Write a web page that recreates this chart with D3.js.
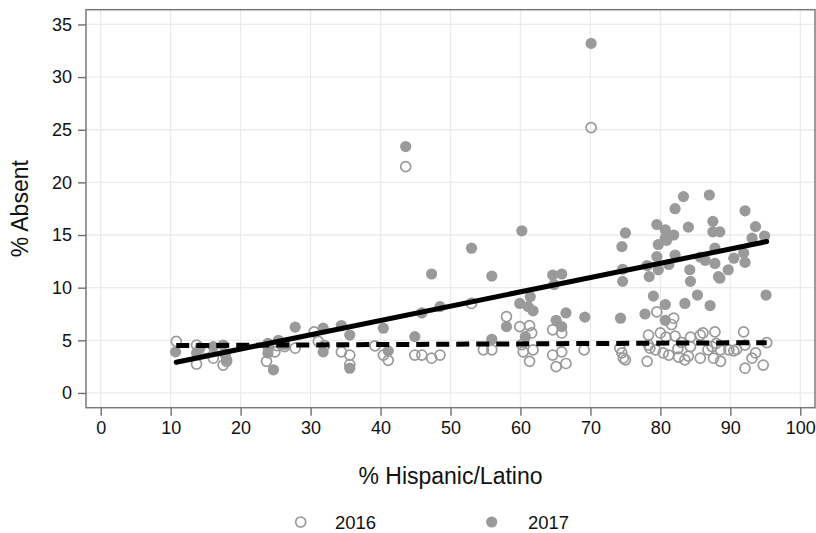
<!DOCTYPE html>
<html>
<head>
<meta charset="utf-8" />
<title>% Absent by % Hispanic/Latino</title>
<script src="https://cdn.jsdelivr.net/npm/d3@7/dist/d3.min.js"></script>
<style>
  body { margin: 0; background: #fff; }
  svg text { font-family: "Liberation Sans", Arial, Helvetica, sans-serif; fill: #111; }
</style>
</head>
<body>
<svg id="chart" width="816" height="533"></svg>
<script>
// 2016 (open circles): % Hispanic/Latino and % Absent
var hisp2016 = [10.8, 13.7, 13.7, 15.0, 16.1, 17.5, 18.0,
  23.7, 24.0, 24.9, 25.2, 26.3, 27.8,
  30.5, 31.1, 32.0, 34.4, 35.6, 35.6,
  39.2, 40.4, 41.1, 43.6, 44.9, 45.9, 47.3, 48.5,
  53.0, 54.7, 55.9, 58.0, 59.9, 60.2, 60.4, 61.3, 61.3, 61.6, 61.8,
  64.6, 64.6, 65.1, 65.9, 65.9, 66.5, 69.1, 70.1,
  74.2, 74.5, 74.7, 75.0, 78.1, 78.3, 78.3, 78.5, 79.3, 79.5, 80.0, 80.4, 80.8, 81.2,
  81.6, 81.9, 82.1, 82.5, 82.6, 83.0, 83.5, 84.0, 84.3, 84.3, 85.7, 85.7, 86.1, 86.8,
  87.4, 87.6, 87.8, 88.0, 88.6, 88.6, 89.8,
  90.5, 90.9, 91.9, 92.1, 92.1, 93.1, 93.6, 94.7, 95.2];
var absent2016 = [4.9, 4.55, 2.75, 4.2, 3.3, 2.65, 3.0,
  3.0, 4.3, 3.9, 4.5, 4.4, 4.25,
  5.8, 4.9, 4.5, 3.9, 3.6, 2.7,
  4.47, 3.6, 3.1, 21.5, 3.6, 3.6, 3.3, 3.6,
  8.5, 4.1, 4.1, 7.25, 6.3, 4.6, 3.9, 6.4, 3.0, 5.7, 4.1,
  6.0, 3.6, 2.5, 5.7, 3.9, 2.8, 4.1, 25.2,
  4.25, 3.8, 3.3, 3.15, 3.0, 5.5, 4.55, 4.25, 4.1, 7.7, 5.7, 3.8, 5.3, 3.6,
  6.5, 7.1, 5.4, 4.2, 3.4, 4.8, 3.15, 3.5, 5.3, 4.4, 5.5, 3.3, 5.7, 4.1,
  4.4, 3.3, 5.8, 4.7, 3.0, 4.1, 4.1,
  4.0, 4.15, 5.8, 4.55, 2.35, 3.3, 3.8, 2.65, 4.78];

// 2017 (filled circles)
var hisp2017 = [10.7, 13.7, 14.2, 16.1, 17.5, 17.8, 18.0,
  23.9, 23.9, 24.7, 25.4, 26.3, 27.8,
  31.8, 31.8, 34.4, 35.6, 35.6,
  40.4, 41.1, 43.6, 44.9, 45.9, 47.3, 48.5,
  53.0, 55.9, 55.9, 58.0, 59.9, 60.2, 60.7, 61.1, 61.4, 61.8,
  64.6, 64.8, 65.1, 65.9, 65.9, 66.5, 69.2, 70.1,
  74.3, 74.5, 74.6, 74.6, 75.0, 77.8, 78.1, 78.4, 79.0, 79.5, 79.5, 79.7, 79.7,
  80.7, 80.7, 80.7, 80.7, 80.9,
  81.2, 81.9, 82.1, 82.1, 83.3, 83.5, 84.0, 84.2, 84.3, 85.3, 85.7, 86.4,
  87.0, 87.1, 87.5, 87.5, 87.8, 87.8, 88.3, 88.5, 88.5, 89.7,
  90.5, 91.9, 92.1, 92.1, 93.1, 93.6, 94.9, 95.1];
var absent2017 = [3.9, 3.8, 4.3, 4.4, 4.55, 3.6, 3.15,
  4.7, 3.8, 2.2, 5.0, 4.6, 6.25,
  6.15, 3.9, 6.4, 5.5, 2.35,
  6.15, 4.0, 23.4, 5.35, 7.6, 11.3, 8.2,
  13.75, 11.1, 5.1, 6.3, 8.5, 15.4, 5.35, 8.2, 9.15, 7.8,
  11.2, 10.3, 6.9, 11.3, 6.3, 7.6, 7.2, 33.2,
  7.1, 13.9, 11.75, 10.6, 15.2, 7.5, 12.1, 11.05, 9.2, 16.0, 12.95, 14.1, 11.7,
  15.5, 14.7, 8.4, 6.9, 14.5,
  12.2, 15.0, 17.5, 13.1, 18.65, 8.5, 15.75, 11.7, 10.6, 9.3, 12.9, 12.6,
  18.8, 8.3, 16.3, 15.3, 13.75, 12.3, 11.05, 15.3, 10.9, 11.7,
  12.8, 13.3, 12.4, 17.3, 14.7, 15.8, 14.9, 9.3];

// fitted lines, end points
var fitX = [10.8, 95.2];
var fit2016 = [4.5, 4.78];
var fit2017 = [2.92, 14.38];

var xTicks = [0, 10, 20, 30, 40, 50, 60, 70, 80, 90, 100];
var yTicks = [0, 5, 10, 15, 20, 25, 30, 35];
var seriesNames = ["2016", "2017"];

var svg = d3.select("#chart");
var plotL = 86, plotR = 815, plotT = 9.7, plotB = 407.7;
var grey = "#9a9a9a";

var x = d3.scaleLinear().domain([-2.1, 102.1]).range([plotL, plotR]);
var y = d3.scaleLinear().domain([-1.4, 36.4]).range([plotB, plotT]);

// grid
svg.append("g").selectAll("line").data(yTicks).enter().append("line")
  .attr("x1", plotL).attr("x2", plotR)
  .attr("y1", function (d) { return y(d); }).attr("y2", function (d) { return y(d); })
  .attr("stroke", "#ebebeb").attr("stroke-width", 1.3);
svg.append("g").selectAll("line").data(xTicks).enter().append("line")
  .attr("y1", plotT).attr("y2", plotB)
  .attr("x1", function (d) { return x(d); }).attr("x2", function (d) { return x(d); })
  .attr("stroke", "#ebebeb").attr("stroke-width", 1.3);

// axes
var xAxis = svg.append("g").attr("transform", "translate(0," + plotB + ")")
  .call(d3.axisBottom(x).tickValues(xTicks).tickSize(8).tickPadding(6).tickFormat(d3.format("d")));
var yAxis = svg.append("g").attr("transform", "translate(" + plotL + ",0)")
  .call(d3.axisLeft(y).tickValues(yTicks).tickSize(8).tickPadding(6).tickFormat(d3.format("d")));
[xAxis, yAxis].forEach(function (a) {
  a.select(".domain").remove();
  a.selectAll(".tick line").attr("stroke", "#6e6e6e").attr("stroke-width", 1.4);
  a.selectAll(".tick text").attr("font-size", "18px").attr("fill", "#111")
    .attr("font-family", "Liberation Sans, Arial, sans-serif");
});

// frame
svg.append("rect").attr("x", plotL).attr("y", plotT)
  .attr("width", plotR - plotL).attr("height", plotB - plotT)
  .attr("fill", "none").attr("stroke", "#7a7a7a").attr("stroke-width", 1.5);

// points
svg.append("g").selectAll("circle").data(d3.range(hisp2016.length)).enter().append("circle")
  .attr("cx", function (i) { return x(hisp2016[i]); })
  .attr("cy", function (i) { return y(absent2016[i]); })
  .attr("r", 5).attr("fill", "none").attr("stroke", grey).attr("stroke-width", 1.7);
svg.append("g").selectAll("circle").data(d3.range(hisp2017.length)).enter().append("circle")
  .attr("cx", function (i) { return x(hisp2017[i]); })
  .attr("cy", function (i) { return y(absent2017[i]); })
  .attr("r", 5.6).attr("fill", grey);

// fit lines
var line = d3.line().x(function (d) { return x(d[0]); }).y(function (d) { return y(d[1]); });
svg.append("path").datum(d3.zip(fitX, fit2016)).attr("d", line)
  .attr("fill", "none").attr("stroke", "#000").attr("stroke-width", 5)
  .attr("stroke-dasharray", "13,7");
svg.append("path").datum(d3.zip(fitX, fit2017)).attr("d", line)
  .attr("fill", "none").attr("stroke", "#000").attr("stroke-width", 5)
  .attr("stroke-linecap", "round");

// axis titles
svg.append("text").attr("x", (plotL + plotR) / 2).attr("y", 484)
  .attr("text-anchor", "middle").attr("font-size", "23px").text("% Hispanic/Latino");
svg.append("text").attr("transform", "translate(28," + (plotT + plotB) / 2 + ") rotate(-90)")
  .attr("text-anchor", "middle").attr("font-size", "23px").text("% Absent");

// legend
var legend = svg.append("g");
legend.append("circle").attr("cx", 300.7).attr("cy", 522).attr("r", 5)
  .attr("fill", "none").attr("stroke", grey).attr("stroke-width", 1.7);
legend.append("circle").attr("cx", 491.7).attr("cy", 522).attr("r", 5.6).attr("fill", grey);
legend.selectAll("text").data(seriesNames).enter().append("text")
  .attr("x", function (d, i) { return i === 0 ? 335 : 528; })
  .attr("y", 528.5).attr("font-size", "18.5px").text(function (d) { return d; });
</script>
</body>
</html>
